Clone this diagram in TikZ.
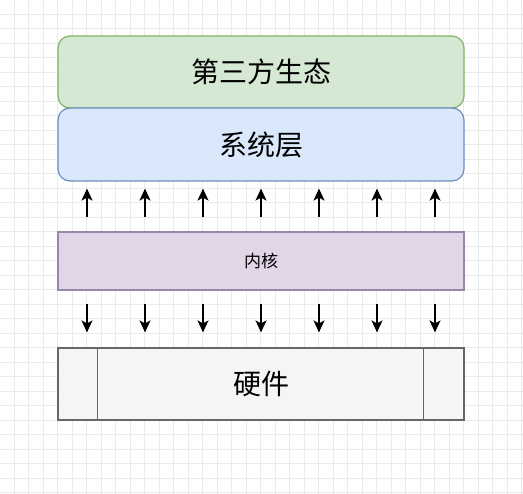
\documentclass[tikz,border=0pt]{standalone}
\usepackage{fontspec}
\setmainfont{Noto Sans CJK SC}
\usetikzlibrary{arrows.meta}
\definecolor{gridgray}{HTML}{EBEBEB}
\definecolor{ecofill}{HTML}{D5E8D4}
\definecolor{ecoline}{HTML}{82B366}
\definecolor{sysfill}{HTML}{DAE8FC}
\definecolor{sysline}{HTML}{6C8EBF}
\definecolor{kernfill}{HTML}{E1D5E7}
\definecolor{kernline}{HTML}{9A86A8}
\definecolor{hwfill}{HTML}{F5F5F5}
\definecolor{hwline}{HTML}{666666}
\tikzset{
  layer/.style={draw, line width=1.2pt, minimum width=406pt, inner sep=0pt},
  bigtext/.style={font=\fontsize{28}{30}\selectfont},
  arr/.style={line width=1.5pt, -{Stealth[length=12pt,width=11pt,inset=3pt]}}
}
\begin{document}
\begin{tikzpicture}[x=1pt,y=-1pt]
    \useasboundingbox (0,0) rectangle (523,494);
    % Fundo com grade
    \fill[white] (0,0) rectangle (523,494);
    \foreach \g in {0,...,35} {
      \draw[gridgray, line width=0.8pt] (14+14.5*\g,0) -- (14+14.5*\g,494);
      \draw[gridgray, line width=0.8pt] (0,14+14.5*\g) -- (523,14+14.5*\g);
    }

    % Camadas
    \node[layer, bigtext, fill=ecofill, draw=ecoline, rounded corners=12pt,
      minimum height=72pt] (eco) at (261,72) {第三方生态};
    \node[layer, bigtext, fill=sysfill, draw=sysline, rounded corners=12pt,
      minimum height=73pt] (sys) at (261,144.5) {系统层};
    \node[layer, fill=kernfill, draw=kernline, minimum height=58pt,
      font=\fontsize{17}{19}\selectfont] (kern) at (261,261) {内核};
    \node[layer, bigtext, fill=hwfill, draw=hwline, minimum height=72pt]
      (hw) at (261,384) {硬件};
    \draw[hwline, line width=1.2pt] ([xshift=40pt]hw.north west) -- ([xshift=40pt]hw.south west);
    \draw[hwline, line width=1.2pt] ([xshift=-41pt]hw.north east) -- ([xshift=-41pt]hw.south east);

    % Setas
    \foreach \i in {0,...,6} {
      \coordinate (c\i) at (87+58*\i,0);
      \draw[arr, shorten <=14pt, shorten >=7pt] (c\i |- kern.north) -- (c\i |- sys.south);
      \draw[arr, shorten <=13pt, shorten >=15pt] (c\i |- kern.south) -- (c\i |- hw.north);
    }
\end{tikzpicture}
\end{document}
